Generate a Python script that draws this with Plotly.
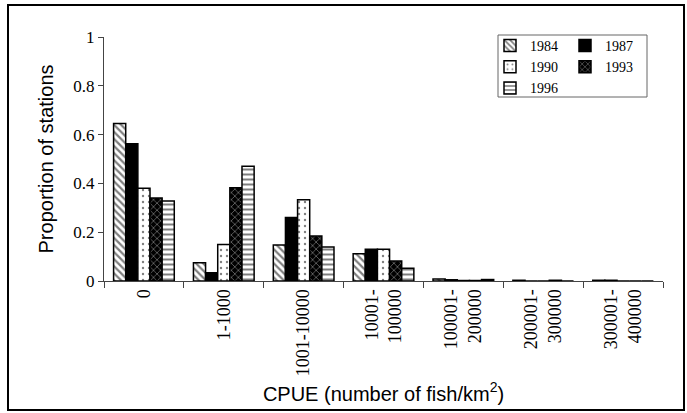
import plotly.graph_objects as go

categories = ["0", "1-1000", "1001-10000", "10001-<br>100000", "100001-<br>200000",
              "200001-<br>300000", "300001-<br>400000"]
years = ["1984", "1987", "1990", "1993", "1996"]
v1984 = [0.645, 0.075, 0.148, 0.112, 0.008, 0.003, 0.003]
v1987 = [0.563, 0.034, 0.260, 0.130, 0.005, 0.0, 0.003]
v1990 = [0.380, 0.150, 0.333, 0.130, 0.002, 0.0, 0.0]
v1993 = [0.340, 0.382, 0.184, 0.082, 0.002, 0.003, 0.0]
v1996 = [0.328, 0.470, 0.139, 0.052, 0.006, 0.0, 0.0]
yticks = [0, 0.2, 0.4, 0.6, 0.8, 1]
yticklabels = ["0", "0.2", "0.4", "0.6", "0.8", "1"]

series = [v1984, v1987, v1990, v1993, v1996]
styles = [
    dict(color="white", pattern=dict(shape="\\", fgcolor="black", bgcolor="white", size=5, solidity=0.45), legend="legend"),
    dict(color="black", pattern=dict(shape=""), legend="legend2"),
    dict(color="white", pattern=dict(shape=".", fgcolor="black", bgcolor="white", size=6, solidity=0.12), legend="legend"),
    dict(color="black", pattern=dict(shape="x", fgcolor="white", bgcolor="black", size=5, solidity=0.25), legend="legend2"),
    dict(color="white", pattern=dict(shape="-", fgcolor="black", bgcolor="white", size=5, solidity=0.4), legend="legend"),
]

SERIF = "Liberation Serif, Times New Roman, serif"
SANS = "Liberation Sans, Arial, sans-serif"

fig = go.Figure()
for name, vals, st in zip(years, series, styles):
    fig.add_trace(go.Bar(
        x=categories, y=vals, name=name, legend=st["legend"],
        marker=dict(color=st["color"], pattern=st["pattern"],
                    line=dict(color="black", width=1.5)),
    ))

W, H = 687, 413
L, R, T, B = 104, 24, 37, 132
pw, ph = W - L - R, H - T - B

def px(x):
    return (x - L) / pw

def py(y):
    return (H - B - y) / ph

fig.update_layout(
    width=W, height=H,
    margin=dict(l=L, r=R, t=T, b=B, autoexpand=False),
    paper_bgcolor="white", plot_bgcolor="white",
    barmode="group", bargap=0.24, bargroupgap=0,
    font=dict(family=SERIF, color="black"),
    legend=dict(x=px(490), y=py(30), xanchor="left", yanchor="top",
                bgcolor="rgba(0,0,0,0)", borderwidth=0,
                font=dict(family=SERIF, size=14, color="black"),
                tracegroupgap=0),
    legend2=dict(x=px(565), y=py(30), xanchor="left", yanchor="top",
                 bgcolor="rgba(0,0,0,0)", borderwidth=0,
                 font=dict(family=SERIF, size=14, color="black"),
                 tracegroupgap=0),
    shapes=[
        dict(type="rect", xref="paper", yref="paper",
             x0=px(498), x1=px(647), y0=py(97), y1=py(35),
             line=dict(color="#666", width=1), fillcolor="rgba(0,0,0,0)", layer="below"),
        dict(type="rect", xref="paper", yref="paper",
             x0=px(8), x1=px(684), y0=py(410), y1=py(5),
             line=dict(color="black", width=2), fillcolor="rgba(0,0,0,0)"),
    ],
)

fig.update_xaxes(
    type="category", tickson="boundaries", ticks="outside", ticklen=6,
    tickcolor="#444", showline=True, linecolor="#444", linewidth=1,
    tickangle=-90, tickfont=dict(family=SERIF, size=18, color="black"),
    showgrid=False, automargin=False,
    title=dict(text="CPUE (number of fish/km<sup>2</sup>)", standoff=11,
               font=dict(family=SANS, size=20, color="black")),
)
fig.update_yaxes(
    range=[0, 1], tickvals=yticks, ticktext=yticklabels,
    ticks="outside", ticklen=5, tickcolor="#444",
    showline=True, linecolor="#444", linewidth=1, showgrid=False, zeroline=False,
    tickfont=dict(family=SERIF, size=17, color="black"), automargin=False,
    title=dict(text="Proportion of stations", standoff=14,
               font=dict(family=SANS, size=20, color="black")),
)

fig.write_html("out.html", config={"displayModeBar": False},
               post_script="document.body.style.margin='0px';")
